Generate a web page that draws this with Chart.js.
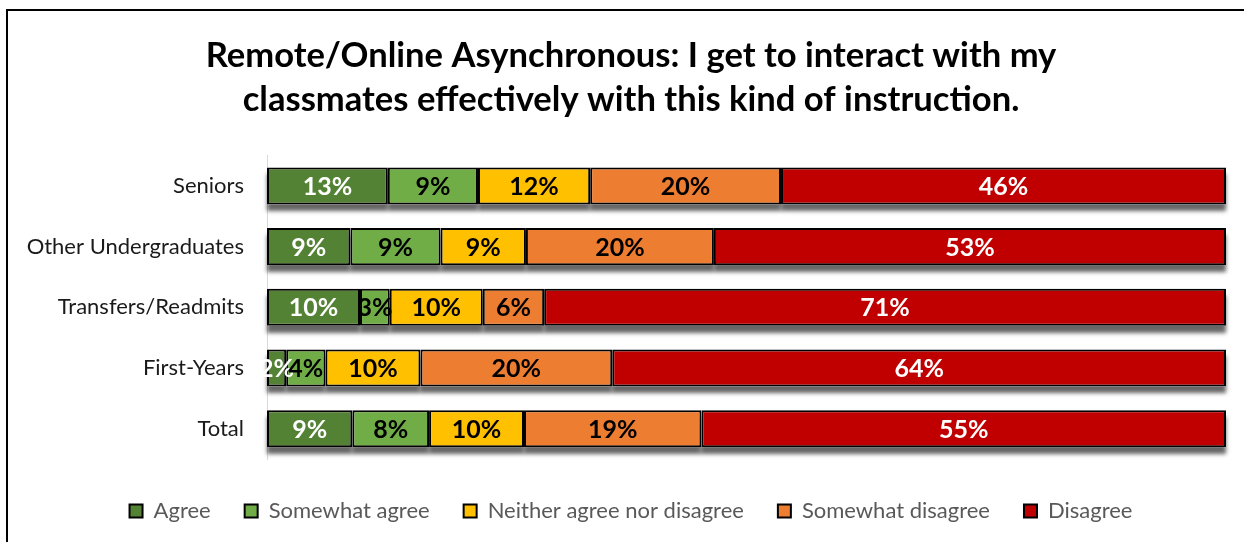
<!DOCTYPE html>
<html>
<head>
<meta charset="utf-8">
<script src="https://cdn.jsdelivr.net/npm/chart.js@4.4.1/dist/chart.umd.min.js"></script>
<style>
  body { margin: 0; background: #fff; }
  #wrap { position: relative; width: 1244px; height: 542px; }
  #frame { position: absolute; left: 6px; top: 9px; right: 0; bottom: 0;
           border-top: 2px solid #000; border-left: 2px solid #000; pointer-events: none; }
  canvas { position: absolute; left: 0; top: 0; }
</style>
</head>
<body>
<div id="wrap">
  <canvas id="myChart" width="1244" height="542"></canvas>
  <div id="frame"></div>
</div>
<script>
const categories = ['Seniors', 'Other Undergraduates', 'Transfers/Readmits', 'First-Years', 'Total'];
const seriesNames = ['Agree', 'Somewhat agree', 'Neither agree nor disagree', 'Somewhat disagree', 'Disagree'];
const agree = [12.6, 8.7, 9.7, 2.0, 8.9];
const somewhatAgree = [9.4, 9.4, 3.1, 4.1, 8.0];
const neither = [11.7, 8.9, 9.7, 9.9, 9.9];
const somewhatDisagree = [19.9, 19.6, 6.4, 20.0, 18.5];
const disagree = [46.4, 53.4, 71.1, 64.0, 54.7];
const colors = ['#548235', '#70AD47', '#FFC000', '#ED7D31', '#C00000'];
const labelColors = ['#fff', '#000', '#000', '#000', '#fff'];

const FONT = 'Lato';

// grey drop shadow under the bars: white rects with a shadow, covered later by the bars
const shadowPlugin = {
    id: 'barShadow',
    beforeDatasetsDraw(chart) {
        const ctx = chart.ctx;
        ctx.save();
        ctx.shadowColor = 'rgba(0,0,0,0.6)';
        ctx.shadowOffsetY = 7;
        ctx.shadowBlur = 4;
        ctx.fillStyle = '#fff';
        chart.data.datasets.forEach((ds, i) => {
            chart.getDatasetMeta(i).data.forEach(bar => {
                const left = Math.min(bar.x, bar.base);
                ctx.fillRect(left, bar.y - bar.height / 2, Math.abs(bar.x - bar.base), bar.height);
            });
        });
        ctx.restore();
    }
};

// percentage labels in the middle of each segment
const valueLabels = {
    id: 'valueLabels',
    afterDatasetsDraw(chart) {
        const ctx = chart.ctx;
        ctx.save();
        ctx.font = 'bold 25px ' + FONT;
        ctx.textAlign = 'center';
        ctx.textBaseline = 'middle';
        chart.data.datasets.forEach((ds, i) => {
            chart.getDatasetMeta(i).data.forEach((bar, j) => {
                ctx.fillStyle = labelColors[i];
                ctx.fillText(Math.round(ds.data[j]) + '%', (bar.x + bar.base) / 2, bar.y + 1);
            });
        });
        ctx.restore();
    }
};

const allSeries = [agree, somewhatAgree, neither, somewhatDisagree, disagree];

new Chart(document.getElementById('myChart'), {
    type: 'bar',
    data: {
        labels: categories,
        datasets: allSeries.map((vals, i) => ({
            label: seriesNames[i],
            data: vals,
            backgroundColor: colors[i],
            borderColor: '#000',
            borderWidth: 2,
            borderSkipped: false,
            categoryPercentage: 1,
            barPercentage: 0.61
        }))
    },
    options: {
        indexAxis: 'y',
        responsive: false,
        animation: false,
        layout: { padding: { left: 18, right: 0, top: 0, bottom: 10 } },
        plugins: {
            title: {
                display: true,
                text: ['Remote/Online Asynchronous: I get to interact with my',
                       'classmates effectively with this kind of instruction.'],
                color: '#000',
                font: { family: FONT, size: 34.6, weight: 'bold', lineHeight: '44px' },
                padding: { top: 34, bottom: 33.6 }
            },
            legend: {
                position: 'bottom',
                labels: {
                    color: '#595959',
                    font: { family: FONT, size: 22 },
                    boxWidth: 13,
                    boxHeight: 13,
                    padding: 34
                }
            },
            tooltip: { enabled: false }
        },
        scales: {
            x: {
                stacked: true,
                min: 0,
                max: 100,
                ticks: { display: false },
                grid: { display: false },
                border: { display: false },
                afterFit: s => { s.height = 7; }
            },
            y: {
                stacked: true,
                ticks: { color: '#1a1a1a', font: { family: FONT, size: 22 }, padding: 23 },
                grid: { display: false, drawTicks: false },
                border: { display: true, color: '#d9d9d9', width: 1 },
                afterFit: s => { s.width = 249; }
            },
            yRight: {
                type: 'category',
                position: 'right',
                ticks: { display: false },
                grid: { display: false },
                border: { display: false },
                afterFit: s => { s.width = 18; }
            }
        }
    },
    plugins: [shadowPlugin, valueLabels]
});
</script>
</body>
</html>
